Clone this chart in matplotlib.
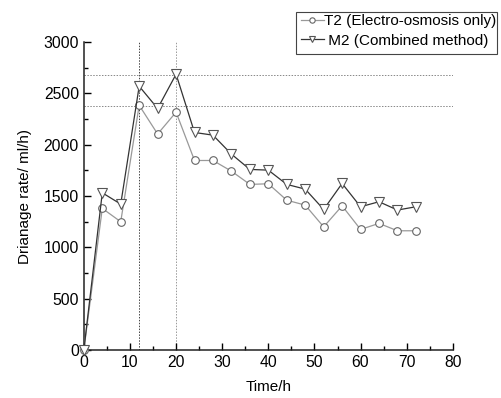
import matplotlib
matplotlib.use("Agg")
import matplotlib.pyplot as plt
from matplotlib.ticker import MultipleLocator
from matplotlib.patches import Rectangle

plt.rcParams['font.family'] = ['Liberation Sans', 'DejaVu Sans']

# time (h)
time_h = [0, 4, 8, 12, 16, 20, 24, 28, 32, 36, 40, 44, 48, 52, 56, 60, 64, 68, 72]
# drainage rate (ml/h)
t2_rate = [0, 1380, 1250, 2385, 2105, 2318, 1847, 1847, 1743, 1614, 1620, 1460,
           1412, 1200, 1405, 1175, 1234, 1162, 1162]
m2_rate = [0, 1532, 1422, 2571, 2354, 2688, 2120, 2094, 1909, 1760, 1753, 1614,
           1568, 1370, 1623, 1396, 1445, 1364, 1396]
peak_times = [12, 20]
peak_rates = [2380, 2680]

fig = plt.figure(figsize=(5.02, 3.98), dpi=100)
ax = fig.add_axes([0.167, 0.1206, 0.735, 0.7734])

l1, = ax.plot(time_h, t2_rate, color='#999999', lw=0.9, marker='o', ms=5.5,
              mfc='white', mec='#666666', mew=0.8, clip_on=False, zorder=3)
l2, = ax.plot(time_h, m2_rate, color='#333333', lw=0.9, marker='v', ms=6.5,
              mfc='white', mec='#555555', mew=0.8, clip_on=False, zorder=4)

ax.axvline(peak_times[0], color='#444444', ls=(0, (1.5, 1.5)), lw=0.7, zorder=1)
ax.axvline(peak_times[1], color='#999999', ls=(0, (1.5, 1.5)), lw=0.7, zorder=1)
for r in peak_rates:
    ax.axhline(r, color='#888888', ls=(0, (1.5, 1.5)), lw=0.7, zorder=1)

ax.set_xlim(0, 80)
ax.set_ylim(0, 3000)
ax.xaxis.set_major_locator(MultipleLocator(10))
ax.xaxis.set_minor_locator(MultipleLocator(5))
ax.yaxis.set_major_locator(MultipleLocator(500))
ax.yaxis.set_minor_locator(MultipleLocator(250))
ax.tick_params(which='both', direction='in', labelsize=11.3, width=1.0)
ax.tick_params(which='major', length=5)
ax.tick_params(which='minor', length=3)
ax.spines['top'].set_visible(False)
ax.spines['right'].set_visible(False)
for s in ['left', 'bottom']:
    ax.spines[s].set_linewidth(1.1)
    ax.spines[s].set_color('#222222')

ax.set_xlabel('Time/h', fontsize=11, labelpad=7)
ax.set_ylabel('Drianage rate/ ml/h)', fontsize=11, labelpad=8)

fig.legend([l1, l2], ['T2 (Electro-osmosis only)', ' M2 (Combined method)'],
           loc='upper left', bbox_to_anchor=(0.593, 0.972), fontsize=11,
           frameon=False, handlelength=1.5, handletextpad=0.05,
           borderpad=0.2, labelspacing=0.35, borderaxespad=0, markerscale=0.7)
fig.patches.append(Rectangle((296 / 502, 1 - 54 / 398), 201 / 502, 42 / 398,
                             transform=fig.transFigure, fill=False,
                             edgecolor='#444444', lw=0.8))

fig.savefig('out.png', dpi=100)
